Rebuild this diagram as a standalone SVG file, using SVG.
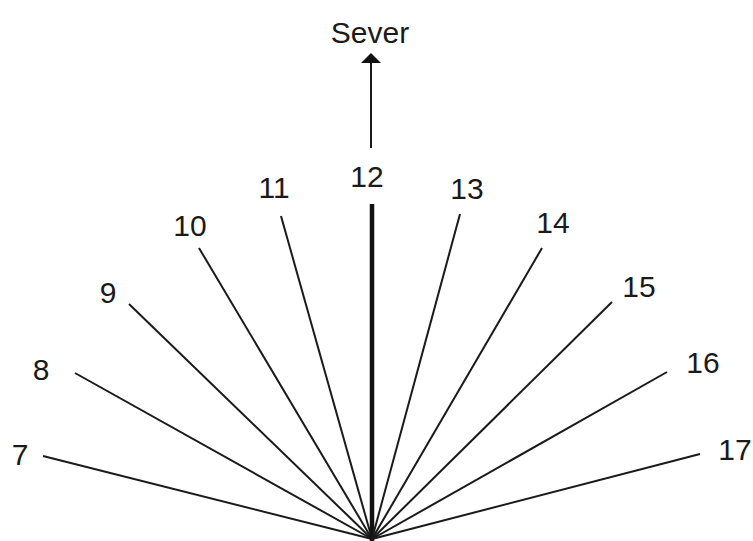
<svg xmlns="http://www.w3.org/2000/svg" width="753" height="541" viewBox="0 0 753 541">
<style>
.lbl{font-family:"Liberation Sans",Arial,sans-serif;font-size:30px;fill:#1a1a1a;text-anchor:middle}
.ray{stroke:#1a1a1a;stroke-width:2;fill:none}
.noon{stroke:#111;stroke-width:4.5;fill:none}
</style>
<defs>
<marker id="ah" viewBox="0 0 10 20" refX="9" refY="10" markerWidth="10" markerHeight="20" markerUnits="userSpaceOnUse" orient="auto">
<path d="M0,0 L10,10 L0,20 z" fill="#111"/>
</marker>
</defs>
<rect width="753" height="541" fill="#fff"/>
<g id="connectors">
<line class="ray" x1="43" y1="456" x2="372" y2="539"/>
<line class="ray" x1="75" y1="373" x2="372" y2="539"/>
<line class="ray" x1="129" y1="304" x2="372" y2="539"/>
<line class="ray" x1="199" y1="248" x2="372" y2="539"/>
<line class="ray" x1="281" y1="216" x2="372" y2="539"/>
<line class="noon" x1="372" y1="204" x2="372" y2="541"/>
<line class="ray" x1="460" y1="214" x2="372" y2="539"/>
<line class="ray" x1="542" y1="248" x2="372" y2="539"/>
<line class="ray" x1="612" y1="302" x2="372" y2="539"/>
<line class="ray" x1="667" y1="372" x2="372" y2="539"/>
<line class="ray" x1="700" y1="454" x2="372" y2="539"/>
<line class="ray" x1="371" y1="148" x2="371" y2="54" marker-end="url(#ah)"/>
</g>
<g id="node-sever"><text class="lbl" x="370" y="43">Sever</text></g>
<g id="node-7"><text class="lbl" x="20" y="465">7</text></g>
<g id="node-8"><text class="lbl" x="41" y="380">8</text></g>
<g id="node-9"><text class="lbl" x="108" y="303">9</text></g>
<g id="node-10"><text class="lbl" x="190" y="236">10</text></g>
<g id="node-11"><text class="lbl" x="274" y="198">11</text></g>
<g id="node-12"><text class="lbl" x="367" y="187">12</text></g>
<g id="node-13"><text class="lbl" x="467" y="199">13</text></g>
<g id="node-14"><text class="lbl" x="553" y="233">14</text></g>
<g id="node-15"><text class="lbl" x="639" y="297">15</text></g>
<g id="node-16"><text class="lbl" x="703" y="373">16</text></g>
<g id="node-17"><text class="lbl" x="735" y="460">17</text></g>
</svg>
